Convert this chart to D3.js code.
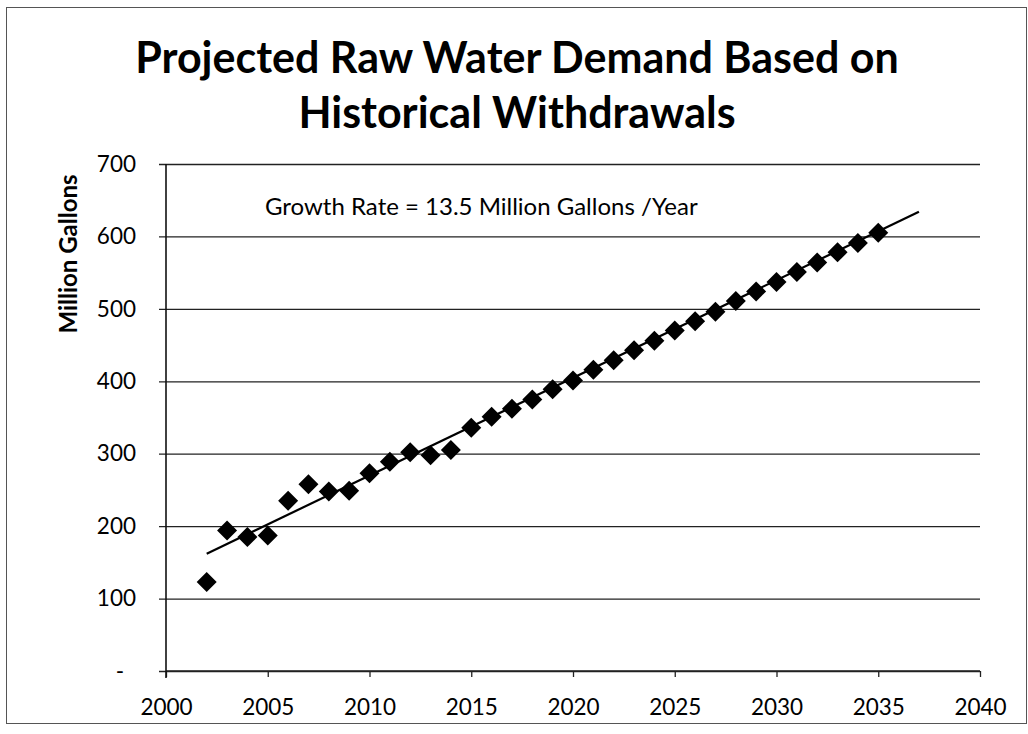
<!DOCTYPE html>
<html>
<head>
<meta charset="utf-8">
<script src="https://cdn.jsdelivr.net/npm/d3@7"></script>
<style>
  html, body { margin: 0; padding: 0; background: #fff; }
  svg { display: block; }
  text { font-family: Lato, "Open Sans", sans-serif; fill: #000; }
</style>
</head>
<body>
<svg id="chart" width="1028" height="734"></svg>
<script>
// ---- Data ----
const years = [2002, 2003, 2004, 2005, 2006, 2007, 2008, 2009, 2010, 2011, 2012, 2013, 2014, 2015, 2016, 2017, 2018, 2019, 2020, 2021, 2022, 2023, 2024, 2025, 2026, 2027, 2028, 2029, 2030, 2031, 2032, 2033, 2034, 2035];
const demand = [123, 194, 185, 187, 235, 258, 248, 249, 273, 289, 302, 298, 305, 336, 351, 362, 375, 389, 401, 416, 429, 443, 456, 470, 483, 496, 511, 524, 537, 551, 564, 578, 591, 605];
const trendYears = [2002, 2037];
const trendValues = [162, 634];
const xTicks = [2000, 2005, 2010, 2015, 2020, 2025, 2030, 2035, 2040];
const yTicks = [0, 100, 200, 300, 400, 500, 600, 700];
const titleLines = ["Projected Raw Water Demand Based on", "Historical Withdrawals"];
const yTitle = "Million Gallons";
const note = "Growth Rate = 13.5 Million Gallons /Year";

// ---- Layout ----
const svg = d3.select("#chart");
const pL = 166, pR = 980, pT = 164, pB = 671;

const x = d3.scaleLinear().domain([2000, 2040]).range([pL, pR]);
const y = d3.scaleLinear().domain([0, 700]).range([pB, pT]);

// outer frame
svg.append("rect")
  .attr("x", 6.5).attr("y", 7.5).attr("width", 1020).attr("height", 716)
  .attr("fill", "none").attr("stroke", "#555").attr("stroke-width", 1);

// title
svg.append("g").selectAll("text").data(titleLines).join("text")
  .attr("x", 517).attr("y", (d, i) => 73 + i * 55)
  .attr("text-anchor", "middle")
  .style("font-weight", "bold").style("font-size", "43px")
  .text(d => d);

// y axis with gridlines
const yAxis = svg.append("g")
  .attr("transform", `translate(${pL},0)`)
  .call(d3.axisLeft(y).tickValues(yTicks)
    .tickSize(-(pR - pL))
    .tickPadding(30)
    .tickFormat(d => d === 0 ? "-" : d3.format("d")(d)));
yAxis.select(".domain").remove();
yAxis.selectAll(".tick line").attr("x1", -7).attr("stroke", "#222").attr("stroke-width", 1.3);
yAxis.selectAll(".tick text").style("font-size", "22.5px").style("font-family", "Lato, sans-serif")
  .attr("dx", d => d === 0 ? -12 : 0);

// x axis
const xAxis = svg.append("g")
  .attr("transform", `translate(0,${pB})`)
  .call(d3.axisBottom(x).tickValues(xTicks).tickSize(6).tickPadding(22)
    .tickFormat(d3.format("d")));
xAxis.select(".domain").attr("stroke", "#222").attr("stroke-width", 1.3).attr("d", `M${pL},0H${pR}`);
xAxis.selectAll(".tick line").attr("stroke", "#222").attr("stroke-width", 1.3);
xAxis.selectAll(".tick text").style("font-size", "22.5px").style("font-family", "Lato, sans-serif");

// left axis line
svg.append("line")
  .attr("x1", pL).attr("x2", pL).attr("y1", pT).attr("y2", pB + 7)
  .attr("stroke", "#111").attr("stroke-width", 1.6);

// y title
svg.append("text")
  .attr("transform", `translate(77,254) rotate(-90)`)
  .attr("text-anchor", "middle")
  .style("font-weight", "bold").style("font-size", "24px")
  .text(yTitle);

// note
svg.append("text")
  .attr("x", 265).attr("y", 215)
  .style("font-size", "24px")
  .text(note);

// trend line
const trend = trendYears.map((t, i) => [t, trendValues[i]]);
svg.append("path")
  .datum(trend)
  .attr("fill", "none").attr("stroke", "#000").attr("stroke-width", 2.2)
  .attr("d", d3.line().x(d => x(d[0])).y(d => y(d[1])));

// points
const sym = d3.symbol().type(d3.symbolSquare).size(200);
svg.append("g").selectAll("path").data(years).join("path")
  .attr("d", sym)
  .attr("transform", (d, i) => `translate(${x(d)},${y(demand[i])}) rotate(45)`)
  .attr("fill", "#000");
</script>
</body>
</html>
